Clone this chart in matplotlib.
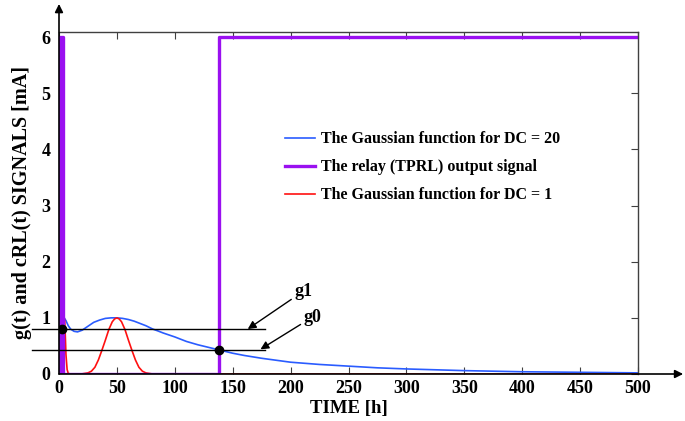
import matplotlib
matplotlib.use("Agg")
import matplotlib.pyplot as plt

plt.rcParams['font.family'] = ['Liberation Serif', 'DejaVu Serif']
plt.rcParams['font.weight'] = 'bold'

# blue: gaussian function, DC = 20
t_blue = [0, 1, 2, 3, 4.5, 6, 8, 10, 13, 16, 20, 25, 30, 35, 40, 45, 50, 55, 60,
          65, 70, 75, 81, 85, 90, 100, 110, 120, 130, 138, 150, 160, 175, 200,
          225, 250, 275, 300, 350, 400, 450, 500]
g_blue = [0, 0.45, 0.85, 0.98, 1.0, 0.95, 0.86, 0.8, 0.76, 0.75, 0.78, 0.85, 0.92,
          0.96, 0.99, 1.0, 1.0, 0.99, 0.97, 0.94, 0.9, 0.86, 0.8, 0.77, 0.73,
          0.66, 0.58, 0.52, 0.47, 0.43, 0.37, 0.33, 0.28, 0.21, 0.17, 0.14,
          0.11, 0.09, 0.06, 0.04, 0.03, 0.02]

# red: gaussian function, DC = 1
t_red = [0, 2, 3, 3.5, 4, 4.5, 5, 5.5, 6, 7, 8, 10, 15, 20, 25, 28, 31, 34, 37, 40,
         43, 46, 48, 50, 52, 54, 57, 60, 63, 66, 69, 72, 75, 80, 90, 100, 200, 300,
         400, 500]
g_red = [0, 0.02, 0.3, 0.65, 0.92, 1.0, 0.92, 0.65, 0.35, 0.08, 0.01, 0, 0, 0.003,
         0.02, 0.05, 0.12, 0.25, 0.42, 0.6, 0.79, 0.93, 0.98, 1.0, 0.98, 0.93,
         0.79, 0.6, 0.42, 0.25, 0.12, 0.05, 0.02, 0.003, 0, 0, 0, 0, 0, 0]

# purple: relay output
t_relay = [0.5, 0.5, 3.5, 3.5, 138, 138, 500]
s_relay = [0, 6, 6, 0, 0, 6, 6]

g1 = 0.80
g0 = 0.43
pts_t = [3, 138]
pts_g = [g1, g0]

labels = ["The Gaussian function for DC = 20",
          "The relay (TPRL) output signal",
          "The Gaussian function for DC = 1"]

fig = plt.figure(figsize=(6.85, 4.21), dpi=100)
ax = fig.add_axes([59/685, 1-374/421, 579/685, 342/421])

l1, = ax.plot(t_blue, g_blue, color='#2a5cff', lw=1.2, label=labels[0])
l3, = ax.plot(t_red, g_red, color='#ff1010', lw=1.2, label=labels[2])
l2, = ax.plot(t_relay, s_relay, color='#9a10f0', lw=2.4, label=labels[1])

ax.plot([-23, 178], [g1, g1], color='black', lw=1, clip_on=False)
ax.plot([-23, 178], [g0, g0], color='black', lw=1, clip_on=False)
ax.plot(pts_t, pts_g, 'o', color='black', ms=6, zorder=5)

ax.annotate("g1", xy=(163, g1), xytext=(203, 1.32), fontsize=13, fontweight='bold',
            arrowprops=dict(arrowstyle='-|>', color='black', lw=1, shrinkA=0, shrinkB=0,
                            mutation_scale=12), va='bottom', ha='left')
ax.annotate("g0", xy=(174, g0 + 0.01), xytext=(211, 0.86), fontsize=13, fontweight='bold',
            arrowprops=dict(arrowstyle='-|>', color='black', lw=1, shrinkA=0, shrinkB=0,
                            mutation_scale=12), va='bottom', ha='left')

ax.set_xlim(0, 500)
ax.set_ylim(0, 6.09)
ax.set_xticks(range(0, 501, 50))
ax.set_yticks(range(0, 7))

for s in ['top', 'right']:
    ax.spines[s].set_color('#404040')
    ax.spines[s].set_linewidth(1)
ax.spines['left'].set_visible(False)
ax.spines['bottom'].set_visible(False)

ax.tick_params(axis='x', direction='in', length=5, top=True, labelsize=13, pad=4, color='#404040')
ax.tick_params(axis='y', direction='in', length=5, right=True, left=False, labelsize=13, pad=6, color='#404040')
for lab in ax.get_xticklabels() + ax.get_yticklabels():
    lab.set_fontweight('bold')

# axis arrows
ax.annotate("", xy=(0, 1.082), xytext=(0, 0), xycoords='axes fraction',
            arrowprops=dict(arrowstyle='-|>', color='black', lw=1.2, shrinkA=0, shrinkB=0,
                            mutation_scale=12))
ax.annotate("", xy=(1.078, 0), xytext=(0, 0), xycoords='axes fraction',
            arrowprops=dict(arrowstyle='-|>', color='black', lw=1.2, shrinkA=0, shrinkB=0,
                            mutation_scale=12))

ax.set_xlabel("TIME [h]", fontsize=13.5, fontweight='bold')
ax.xaxis.set_label_coords(0.5, -0.077)
ax.set_ylabel("g(t) and cRL(t) SIGNALS [mA]", fontsize=14.5, fontweight='bold')
ax.yaxis.set_label_coords(-0.046, 0.5)

ax.legend(handles=[l1, l2, l3], loc='upper left', bbox_to_anchor=(0.39, 0.71),
          frameon=False, fontsize=11.5, handlelength=1.9, handletextpad=0.35,
          labelspacing=0.75, borderpad=0, borderaxespad=0)

fig.savefig("out.png", dpi=100)
